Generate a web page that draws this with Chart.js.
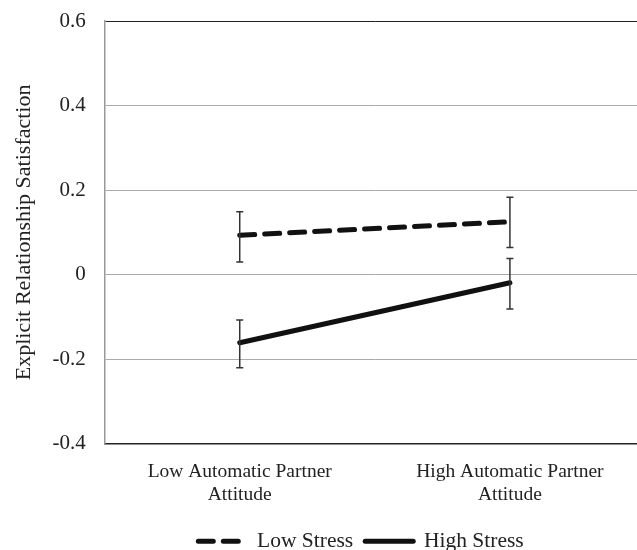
<!DOCTYPE html>
<html lang="en">
<head>
    <meta charset="UTF-8">
    <title>Explicit Relationship Satisfaction</title>
    <script src="https://cdn.jsdelivr.net/npm/chart.js"></script>
    <style>
        html, body { margin: 0; padding: 0; background: #fff; overflow: hidden; }
        #wrap { width: 645px; height: 550px; }
    </style>
</head>
<body>
    <div id="wrap"><canvas id="myChart"></canvas></div>
    <script>
        // data
        const categories = [['Low Automatic Partner', 'Attitude'], ['High Automatic Partner', 'Attitude']];
        const lowStress = [0.093, 0.125];
        const lowStressUpper = [0.149, 0.183];
        const lowStressLower = [0.030, 0.064];
        const highStress = [-0.161, -0.019];
        const highStressUpper = [-0.107, 0.038];
        const highStressLower = [-0.220, -0.081];
        const yTicks = [-0.4, -0.2, 0, 0.2, 0.4, 0.6];

        const errorBars = [
            { upper: lowStressUpper, lower: lowStressLower },
            { upper: highStressUpper, lower: highStressLower }
        ];

        // draw error bars with the chart's own scales
        const errorBarPlugin = {
            id: 'errorBars',
            afterDatasetsDraw(chart) {
                const ctx = chart.ctx;
                const xs = chart.scales.x, ys = chart.scales.y;
                ctx.save();
                ctx.strokeStyle = '#333';
                ctx.lineWidth = 1.5;
                errorBars.forEach(eb => {
                    eb.upper.forEach((u, i) => {
                        const x = xs.getPixelForValue(i);
                        const yt = ys.getPixelForValue(u);
                        const yb = ys.getPixelForValue(eb.lower[i]);
                        ctx.beginPath();
                        ctx.moveTo(x, yt); ctx.lineTo(x, yb);
                        ctx.moveTo(x - 3.5, yt); ctx.lineTo(x + 3.5, yt);
                        ctx.moveTo(x - 3.5, yb); ctx.lineTo(x + 3.5, yb);
                        ctx.stroke();
                    });
                });
                ctx.restore();
            }
        };

        // legend sits a little right of centre in the original
        const legendShift = {
            id: 'legendShift',
            afterLayout(chart) {
                if (chart.legend) {
                    chart.legend.top -= 4;
                    chart.legend.bottom -= 4;
                    chart.legend.left += 33;
                    chart.legend.right += 33;
                }
            }
        };

        Chart.defaults.font.family = '"Liberation Serif", "Times New Roman", serif';
        Chart.defaults.color = '#222';

        const ctx = document.getElementById('myChart').getContext('2d');
        new Chart(ctx, {
            type: 'line',
            data: {
                labels: categories,
                datasets: [{
                    label: 'Low Stress',
                    data: lowStress,
                    borderColor: '#111',
                    backgroundColor: '#111',
                    borderWidth: 5,
                    borderDash: [15, 10],
                    borderCapStyle: 'round',
                    pointRadius: 0
                }, {
                    label: 'High Stress',
                    data: highStress,
                    borderColor: '#111',
                    backgroundColor: '#111',
                    borderWidth: 5,
                    borderCapStyle: 'round',
                    pointRadius: 0
                }]
            },
            options: {
                responsive: true,
                maintainAspectRatio: false,
                animation: false,
                layout: { padding: { top: 0, left: 11, right: 0, bottom: -16 } },
                plugins: {
                    tooltip: { enabled: false },
                    legend: {
                        position: 'bottom',
                        labels: {
                            usePointStyle: true,
                            pointStyle: 'line',
                            pointStyleWidth: 48,
                            boxHeight: 5,
                            padding: 12,
                            font: { size: 21.5 },
                            color: '#222',
                            generateLabels(chart) {
                                const items = Chart.defaults.plugins.legend.labels.generateLabels(chart);
                                items.forEach(it => {
                                    const ds = chart.data.datasets[it.datasetIndex];
                                    it.lineDash = ds.borderDash || [];
                                    it.lineCap = 'round';
                                    it.lineWidth = 5;
                                });
                                return items;
                            }
                        }
                    }
                },
                scales: {
                    x: {
                        offset: true,
                        grid: { display: false, drawTicks: false },
                        border: { color: '#222', width: 1.5 },
                        ticks: { padding: 16, font: { size: 19.5 }, color: '#222', maxRotation: 0 }
                    },
                    y: {
                        min: -0.4,
                        max: 0.6,
                        afterBuildTicks(axis) { axis.ticks = yTicks.map(v => ({ value: v })); },
                        grid: {
                            drawTicks: false,
                            color: c => (c.tick && (c.tick.value === 0.6 || c.tick.value === -0.4)) ? '#222' : '#aaa',
                            lineWidth: 1
                        },
                        border: { color: '#999', width: 1.5 },
                        ticks: { padding: 19, font: { size: 21, lineHeight: 0.2 }, color: '#222' },
                        title: {
                            display: true,
                            text: 'Explicit Relationship Satisfaction',
                            font: { size: 22 },
                            color: '#222',
                            padding: { top: 0, bottom: -4 }
                        }
                    }
                }
            },
            plugins: [errorBarPlugin, legendShift]
        });
    </script>
</body>
</html>
